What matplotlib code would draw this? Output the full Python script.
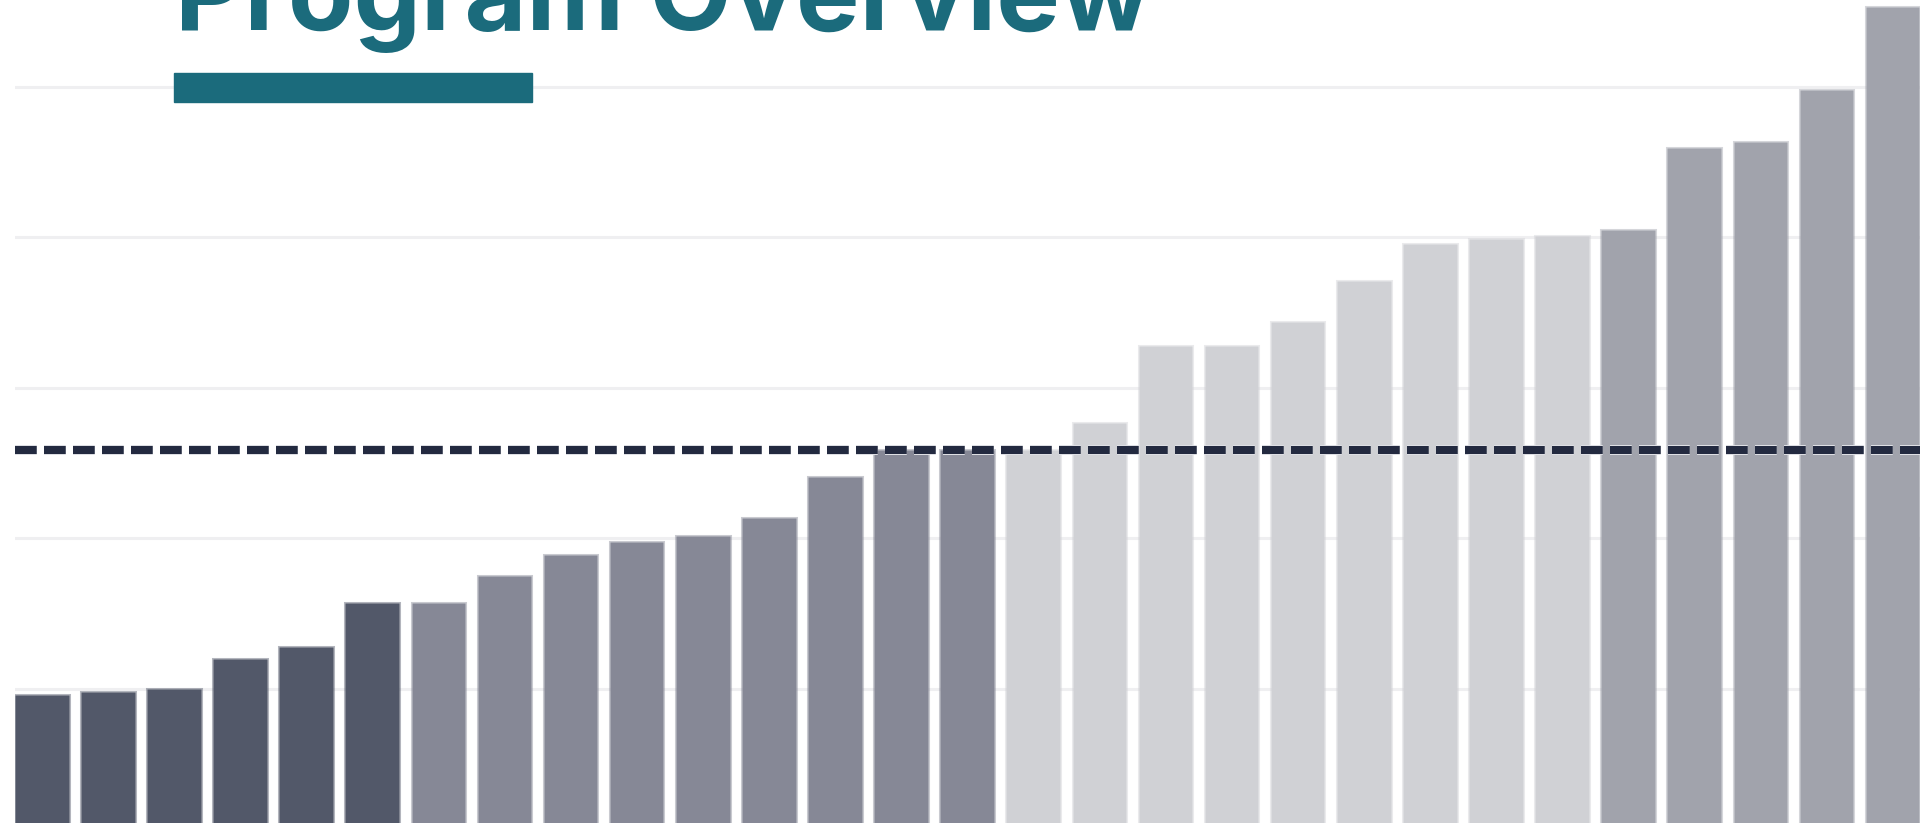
import numpy as np
import matplotlib.pyplot as plt
from matplotlib.patches import Rectangle
import matplotlib.patheffects as pe

# Program Overview - bar values, sorted ascending
values = [19.2, 19.6, 20.0, 24.0, 25.6, 31.4, 31.4, 35.0, 37.8, 39.5,
          40.3, 42.7, 48.2, 51.7, 51.7, 51.7, 55.3, 65.6, 65.6, 68.8,
          74.2, 79.1, 79.8, 80.2, 81.0, 91.9, 92.7, 99.6, 110.6]
groups = ['A'] * 6 + ['B'] * 9 + ['C'] * 9 + ['D'] * 5
group_colors = {'A': '#525869', 'B': '#868896', 'C': '#d0d1d5', 'D': '#a1a3ac'}
target = 51.8
gridlines = [20, 40, 60, 80, 100]
title = 'Program Overview'

W, H = 1920, 823
fig = plt.figure(figsize=(W / 100, H / 100), dpi=100)
fig.patch.set_facecolor('white')

# axes runs off the bottom of the frame, like the cropped original
ax = fig.add_axes([15 / W, 0, 1 - 15 / W, 1])
x = np.arange(len(values))
cols = [group_colors[g] for g in groups]
ax.bar(x, values, width=0.81, color=cols,
       edgecolor=[c + '70' for c in cols], linewidth=2.2, zorder=2)

for g in gridlines:
    ax.axhline(g, color='#efeff1', lw=2.2, zorder=1)

ax.axhline(target, color='#232a40', lw=5.8, ls=(0, (2.7, 0.9)), zorder=3,
           path_effects=[pe.Stroke(linewidth=7.2, foreground='#e4e5e9'), pe.Normal()])

ax.set_xlim(-0.405, 28.415)
ax.set_ylim(2.19, 111.56)
ax.axis('off')

# title, partly above the frame
t = fig.text(175 / W, 1 - 30 / H, title, color='#1b6b7c', fontsize=80,
             fontweight='bold', family='Inter', ha='left', va='baseline')
fig.canvas.draw()
bb = t.get_window_extent()
t.set_fontsize(80 * 977 / bb.width)

fig.add_artist(Rectangle((174 / W, 1 - 102 / H), 358 / W, 29 / H,
                         transform=fig.transFigure, color='#1b6b7c', zorder=5))

fig.savefig('out.png', dpi=100)
